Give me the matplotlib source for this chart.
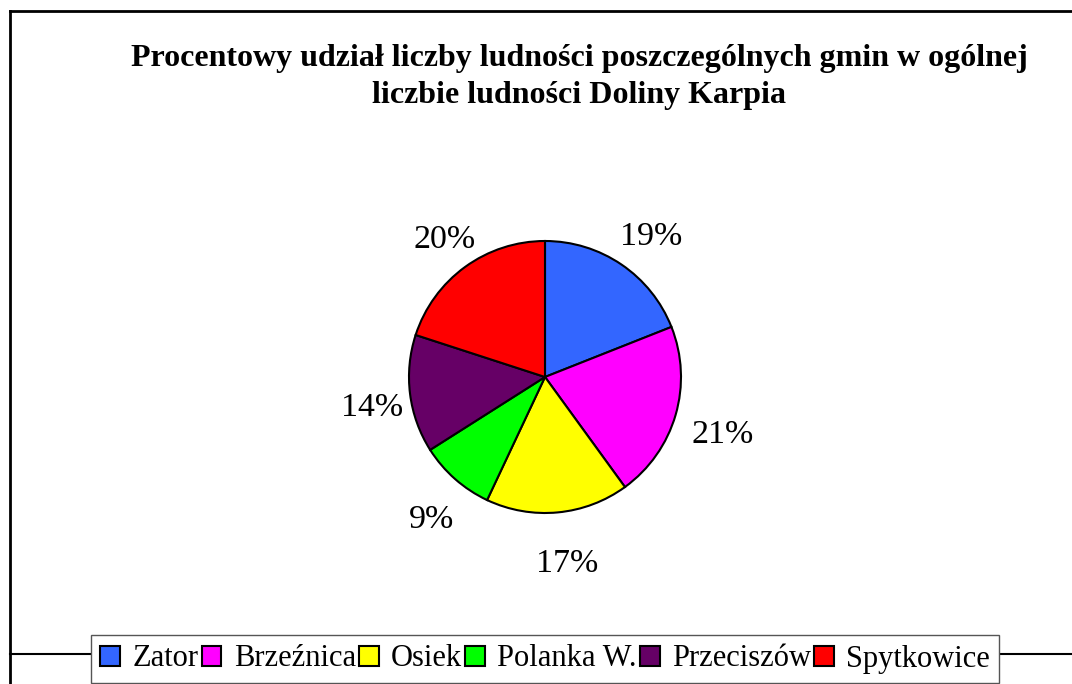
import matplotlib.pyplot as plt
from matplotlib.lines import Line2D
from matplotlib.transforms import ScaledTranslation

# Dane
gminy = ['Zator', 'Brzeźnica', 'Osiek', 'Polanka W.', 'Przeciszów', 'Spytkowice']
udzial = [19, 21, 17, 9, 14, 20]
kolory = ['#3366FF', '#FF00FF', '#FFFF00', '#00FF00', '#660066', '#FF0000']

tytul = 'Procentowy udział liczby ludności poszczególnych gmin w ogólnej\nliczbie ludności Doliny Karpia'

plt.rcParams['font.family'] = ['Liberation Serif', 'DejaVu Serif']

W, H = 1072, 684
fig = plt.figure(figsize=(W / 100, H / 100), dpi=100)

# Ramka wykresu
lw = 2
fig.add_artist(Line2D([10 / W, 1], [1 - 11 / H, 1 - 11 / H], color='black', lw=lw))
fig.add_artist(Line2D([10 / W, 10 / W], [0, 1 - 11 / H], color='black', lw=lw))
fig.add_artist(Line2D([10 / W, 1], [1 - 654 / H, 1 - 654 / H], color='black', lw=1.5))

# Tytuł
fig.text(579 / W, 1 - 77 / H, tytul, ha='center', va='center', fontsize=23,
         fontweight='bold', linespacing=1.4)

# Wykres kołowy
cx, cy, r = 545, 684 - 377, 136
ax = fig.add_axes([(cx - r) / W, (cy - r) / H, 2 * r / W, 2 * r / H])
wedges, texts, autotexts = ax.pie(
    udzial, colors=kolory, startangle=90, counterclock=False,
    autopct='%1.0f%%', pctdistance=1.32,
    wedgeprops=dict(edgecolor='black', linewidth=1.5),
    textprops=dict(fontsize=24.5))
ax.set_xlim(-1, 1)
ax.set_ylim(-1, 1)
ax.set_aspect('equal')

# etykiety nieco niżej, jak w oryginale
przesun = ScaledTranslation(5 / 100, -8 / 100, fig.dpi_scale_trans)
for t in autotexts:
    t.set_transform(t.get_transform() + przesun)

# Legenda
leg = fig.legend(wedges, gminy, loc='center', ncol=6,
                 bbox_to_anchor=(545 / W, 1 - 659 / H),
                 fontsize=22, frameon=True, fancybox=False, framealpha=1,
                 edgecolor='#555555', handlelength=0.65, handleheight=0.65,
                 handletextpad=0.4, columnspacing=0.1, borderpad=0.3,
                 borderaxespad=0)
leg.get_frame().set_linewidth(1)
for h in leg.legend_handles:
    h.set_linewidth(1.5)

fig.savefig('out.png', dpi=100)
